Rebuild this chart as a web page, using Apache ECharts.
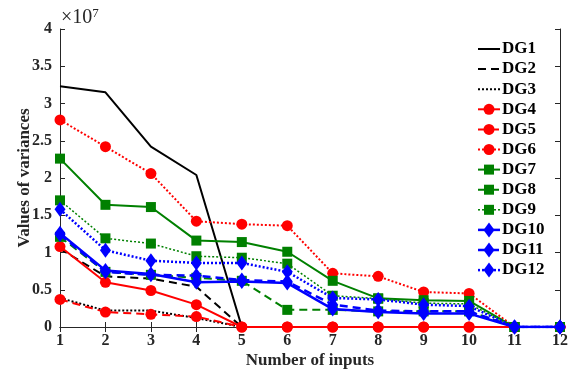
<!DOCTYPE html>
<html>
<head>
<meta charset="utf-8">
<script src="https://cdn.jsdelivr.net/npm/echarts@6/dist/echarts.min.js"></script>
<style>
  html, body { margin: 0; padding: 0; background: #fff; }
  #chart { width: 570px; height: 371px; }
</style>
</head>
<body>
<div id="chart"></div>
<script>
// Number of inputs (x values)
const inputs = [1, 2, 3, 4, 5, 6, 7, 8, 9, 10, 11, 12];
// Y tick labels (values shown in units of 1e7)
const yTicks = ['0', '0.5', '1', '1.5', '2', '2.5', '3', '3.5', '4'];
const seriesNames = ['DG1', 'DG2', 'DG3', 'DG4', 'DG5', 'DG6', 'DG7', 'DG8', 'DG9', 'DG10', 'DG11', 'DG12'];

// Variances per DG, in units of 1e7
const dg1  = [3.23, 3.15, 2.42, 2.04, 0, 0, 0, 0, 0, 0, 0, 0];
const dg2  = [1.05, 0.68, 0.65, 0.54, 0, 0, 0, 0, 0, 0, 0, 0];
const dg3  = [0.39, 0.22, 0.22, 0.12, 0, 0, 0, 0, 0, 0, 0, 0];
const dg4  = [1.08, 0.60, 0.49, 0.30, 0, 0, 0, 0, 0, 0, 0, 0];
const dg5  = [0.37, 0.20, 0.17, 0.14, 0, 0, 0, 0, 0, 0, 0, 0];
const dg6  = [2.78, 2.42, 2.06, 1.42, 1.38, 1.36, 0.72, 0.68, 0.47, 0.45, 0, 0];
const dg7  = [2.26, 1.64, 1.61, 1.16, 1.14, 1.01, 0.62, 0.385, 0.36, 0.35, 0, 0];
const dg8  = [1.21, 0.74, 0.70, 0.66, 0.62, 0.23, 0.23, 0.21, 0.21, 0.21, 0, 0];
const dg9  = [1.70, 1.19, 1.12, 0.95, 0.93, 0.85, 0.42, 0.38, 0.32, 0.31, 0, 0];
const dg10 = [1.26, 0.76, 0.71, 0.60, 0.61, 0.59, 0.24, 0.20, 0.18, 0.18, 0, 0];
const dg11 = [1.24, 0.74, 0.70, 0.69, 0.63, 0.61, 0.30, 0.22, 0.21, 0.21, 0, 0];
const dg12 = [1.58, 1.03, 0.89, 0.86, 0.86, 0.74, 0.39, 0.37, 0.30, 0.28, 0, 0];

const allData = [dg1, dg2, dg3, dg4, dg5, dg6, dg7, dg8, dg9, dg10, dg11, dg12];

const FONT = 'Liberation Serif';
const colors = ['#000000', '#000000', '#000000', '#ff0000', '#ff0000', '#ff0000',
                '#008000', '#008000', '#008000', '#0000ff', '#0000ff', '#0000ff'];
const dashes = ['solid', [8, 5], [2, 2], 'solid', [8, 5], [2, 2],
                'solid', [8, 5], [2, 2], 'solid', [8, 5], [2, 2]];
const symbols = ['none', 'none', 'none', 'circle', 'circle', 'circle',
                 'rect', 'rect', 'rect', 'diamond', 'diamond', 'diamond'];
const symbolSizes = [0, 0, 0, 11, 11, 11, 10, 10, 10, [11, 15], [11, 15], [11, 15]];
const widths = [2, 2, 2, 2, 2, 2, 2, 2, 1.5, 2.5, 2.5, 2.5];

const series = seriesNames.map((name, i) => ({
  name: name,
  type: 'line',
  data: inputs.map((x, k) => [x, allData[i][k]]),
  symbol: symbols[i],
  symbolSize: symbolSizes[i],
  showSymbol: symbols[i] !== 'none',
  color: colors[i],
  itemStyle: { color: colors[i] },
  lineStyle: { color: colors[i], width: widths[i], type: dashes[i] },
  emphasis: { disabled: true },
  animation: false,
  z: 2 + i
}));

// Legend drawn as a column of line + marker + label entries
const legendX = 478, legendTop = 49, legendStep = 20.1, legendLineLen = 22;
const legendItems = [];
seriesNames.forEach((name, i) => {
  const cy = legendTop + i * legendStep;
  const dash = dashes[i] === 'solid' ? null : dashes[i];
  legendItems.push({
    type: 'line', z: 100,
    shape: { x1: legendX, y1: cy, x2: legendX + legendLineLen, y2: cy },
    style: { stroke: colors[i], lineWidth: widths[i], lineDash: dash }
  });
  if (symbols[i] !== 'none') {
    const cx = legendX + legendLineLen / 2;
    if (symbols[i] === 'circle') {
      legendItems.push({ type: 'circle', z: 101, shape: { cx: cx, cy: cy, r: 5.5 }, style: { fill: colors[i] } });
    } else if (symbols[i] === 'rect') {
      legendItems.push({ type: 'rect', z: 101, shape: { x: cx - 5, y: cy - 5, width: 10, height: 10 }, style: { fill: colors[i] } });
    } else {
      legendItems.push({ type: 'polygon', z: 101,
        shape: { points: [[cx, cy - 7.5], [cx + 5.5, cy], [cx, cy + 7.5], [cx - 5.5, cy]] },
        style: { fill: colors[i] } });
    }
  }
  legendItems.push({
    type: 'text', z: 101, x: legendX + legendLineLen + 2, y: cy,
    style: { text: name, fontFamily: FONT, fontWeight: 'bold', fontSize: 17, fill: '#000',
             textVerticalAlign: 'middle', verticalAlign: 'middle' }
  });
});

const chart = echarts.init(document.getElementById('chart'), null, { renderer: 'canvas' });

const axisText = { fontFamily: FONT, fontWeight: 'bold', fontSize: 16, color: '#262626' };

chart.setOption({
  backgroundColor: '#ffffff',
  animation: false,
  grid: { left: 60, right: 10, top: 29, bottom: 44, containLabel: false, outerBoundsMode: 'none' },
  xAxis: [
    {
      type: 'value', min: 1, max: 12, interval: 1, position: 'bottom',
      axisLine: { lineStyle: { color: '#262626', width: 1 } },
      axisTick: { inside: true, length: 5, lineStyle: { color: '#262626' } },
      axisLabel: Object.assign({ margin: 6 }, axisText),
      splitLine: { show: false },
      name: 'Number of inputs', nameLocation: 'middle', nameGap: 25,
      nameMoveOverlap: false,
      nameTextStyle: { fontFamily: FONT, fontWeight: 'bold', fontSize: 17, color: '#262626' }
    },
    {
      type: 'value', min: 1, max: 12, interval: 1, position: 'top',
      axisLine: { lineStyle: { color: '#262626', width: 1 } },
      axisTick: { inside: true, length: 5, lineStyle: { color: '#262626' } },
      axisLabel: { show: false },
      splitLine: { show: false }
    }
  ],
  yAxis: [
    {
      type: 'value', min: 0, max: 4, interval: 0.5, position: 'left',
      axisLine: { lineStyle: { color: '#262626', width: 1 } },
      axisTick: { inside: true, length: 5, lineStyle: { color: '#262626' } },
      axisLabel: Object.assign({
        margin: 8,
        formatter: (v) => yTicks[Math.round(v / 0.5)]
      }, axisText),
      splitLine: { show: false },
      name: 'Values of variances', nameLocation: 'middle', nameGap: 27,
      nameMoveOverlap: false,
      nameTextStyle: { fontFamily: FONT, fontWeight: 'bold', fontSize: 17, color: '#262626' }
    },
    {
      type: 'value', min: 0, max: 4, interval: 0.5, position: 'right',
      axisLine: { lineStyle: { color: '#262626', width: 1 } },
      axisTick: { inside: true, length: 5, lineStyle: { color: '#262626' } },
      axisLabel: { show: false },
      splitLine: { show: false }
    }
  ],
  graphic: [
    {
      type: 'text',
      x: 61,
      y: 7,
      z: 100,
      style: {
        text: '{base|×10}{sup|7}',
        rich: {
          base: { fontFamily: FONT, fontSize: 20, fill: '#262626' },
          sup: { fontFamily: FONT, fontSize: 13, fill: '#262626', verticalAlign: 'top', padding: [0, 0, 9, 0] }
        }
      }
    }
  ].concat(legendItems),
  series: series
});
</script>
</body>
</html>
